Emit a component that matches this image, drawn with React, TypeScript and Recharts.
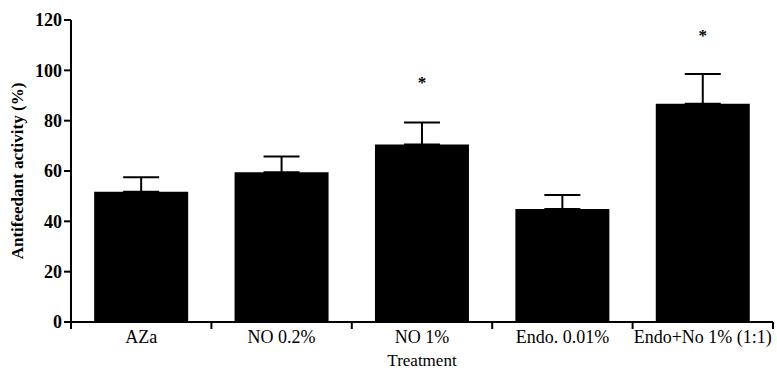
import React from "react";
import {
	ComposedChart,
	Bar,
	ErrorBar,
	Scatter,
	XAxis,
	YAxis,
	Label,
} from "recharts";

// Values
const treatments = ["AZa", "NO 0.2%", "NO 1%", "Endo. 0.01%", "Endo+No 1% (1:1)"];
const activity = [51.8, 59.5, 70.5, 44.9, 86.7];
const sem = [5.7, 6.3, 8.8, 5.6, 11.8];
const starLevel = [null, null, 96.3, null, 115];
const yTicks = [0, 20, 40, 60, 80, 100, 120];

const FONT = '"Liberation Serif", "Times New Roman", serif';

const data = treatments.map((name, i) => ({
	name,
	value: activity[i],
	err: [0, sem[i]],
	star: starLevel[i],
}));

// Category label at the centre, tick marks on the band edges
const CategoryTick = (props: any) => {
	const { x, y, payload, index } = props;
	const half = payload && payload.offset ? payload.offset : 70.3;
	return (
		<g>
			{index === 0 && (
				<line x1={x - half} y1={y - 8} x2={x - half} y2={y - 1} stroke="#000" strokeWidth={2} />
			)}
			<line x1={x + half} y1={y - 8} x2={x + half} y2={y - 1} stroke="#000" strokeWidth={2} />
			<text x={x} y={y + 13} textAnchor="middle" fontFamily={FONT} fontSize={18} fill="#000">
				{payload.value}
			</text>
		</g>
	);
};

const Star = (props: any) => {
	const { cx, cy, payload } = props;
	if (payload == null || payload.star == null || isNaN(cy)) return null;
	return (
		<text x={cx} y={cy + 8} textAnchor="middle" fontFamily={FONT} fontWeight="bold" fontSize={17} fill="#000">
			*
		</text>
	);
};

export default function App() {
	return (
		<div style={{ position: "absolute", left: 0, top: 0, background: "#fff" }}>
			<ComposedChart
				width={777}
				height={373}
				data={data}
				margin={{ top: 20, right: 4, bottom: 0, left: 0 }}
				barCategoryGap="16.5%"
			>
				<XAxis
					dataKey="name"
					axisLine={{ stroke: "#000", strokeWidth: 2 }}
					tickLine={false}
					tick={<CategoryTick />}
					interval={0}
					height={51}
				>
					<Label value="Treatment" position="insideBottom" offset={7} style={{ fontFamily: FONT, fontSize: 17, fill: "#000" }} />
				</XAxis>
				<YAxis
					domain={[0, 120]}
					ticks={yTicks}
					width={71}
					axisLine={{ stroke: "#000", strokeWidth: 2 }}
					tickLine={{ stroke: "#000", strokeWidth: 2 }}
					tickSize={7}
					tickMargin={2}
					tick={{ fontFamily: FONT, fontSize: 18, fontWeight: "bold", fill: "#000" }}
				>
					<Label
						value="Antifeedant activity (%)"
						angle={-90}
						position="insideLeft"
						offset={17}
						style={{ textAnchor: "middle", fontFamily: FONT, fontSize: 17, fontWeight: "bold", fill: "#000" }}
					/>
				</YAxis>
				<Bar dataKey="value" fill="#000" isAnimationActive={false}>
					<ErrorBar dataKey="err" width={18} stroke="#000" strokeWidth={2} direction="y" />
				</Bar>
				<Scatter dataKey="star" shape={<Star />} isAnimationActive={false} />
			</ComposedChart>
		</div>
	);
}
